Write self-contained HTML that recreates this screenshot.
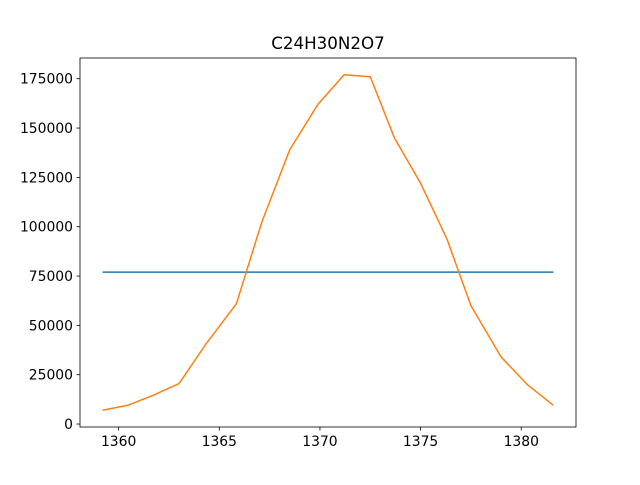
<!DOCTYPE html>
<html><head><meta charset="utf-8"><style>
body{margin:0;background:#fff;}
svg text{font-family:"DejaVu Sans","Liberation Sans",sans-serif;font-size:13.9px;fill:#000;}
</style></head><body>
<svg id="c" width="640" height="480"></svg>
<script>
const xs=[1359.2,1360.45,1361.7,1363.0,1364.3,1365.85,1367.1,1368.5,1369.9,1371.2,1372.5,1373.7,1375.0,1376.3,1377.5,1379.0,1380.3,1381.6];
const ys=[7000,9500,14500,20500,40000,61000,102000,139000,162000,177000,176000,145000,122000,94000,60000,34000,20000,9500];
const flatX=[1359.2,1381.6];
const flatY=[77000,77000];
const xTicks=[1360,1365,1370,1375,1380];
const yTicks=[0,25000,50000,75000,100000,125000,150000,175000];
const title="C24H30N2O7";
const L=80,R=576,T=58,B=427;
const xmin=1358.08,xmax=1382.72,ymin=-1500,ymax=185500;
const sx=v=>L+(v-xmin)/(xmax-xmin)*(R-L);
const sy=v=>B-(v-ymin)/(ymax-ymin)*(B-T);
const svg=document.getElementById('c');
const NS='http://www.w3.org/2000/svg';
function mk(t,a){const e=document.createElementNS(NS,t);for(const k in a)e.setAttribute(k,a[k]);svg.appendChild(e);return e;}
let e;
e=mk('polyline',{points:flatX.map((x,i)=>sx(x)+','+sy(flatY[i])).join(' '),fill:'none',stroke:'#1f77b4','stroke-width':1.5});


e=mk('polyline',{points:xs.map((x,i)=>sx(x)+','+sy(ys[i])).join(' '),fill:'none',stroke:'#ff7f0e','stroke-width':1.5,'stroke-linejoin':'round'});


e=mk('rect',{x:L,y:T,width:R-L,height:B-T,fill:'none',stroke:'#000','stroke-width':0.8});


xTicks.forEach(v=>{const x=sx(v);
 e=mk('line',{x1:x,x2:x,y1:B,y2:B+3.5,stroke:'#000','stroke-width':0.8});
 
 
 e=mk('text',{x:x,y:B+19,'text-anchor':'middle'});e.textContent=v;
 
 });
yTicks.forEach(v=>{const y=sy(v);
 e=mk('line',{x1:L-3.5,x2:L,y1:y,y2:y,stroke:'#000','stroke-width':0.8});
 
 
 e=mk('text',{x:L-7,y:y+5,'text-anchor':'end'});e.textContent=v;
 
 });
e=mk('text',{x:(L+R)/2,y:T-9,'text-anchor':'middle',style:'font-size:16.7px'});e.textContent=title;


</script>
</body></html>
